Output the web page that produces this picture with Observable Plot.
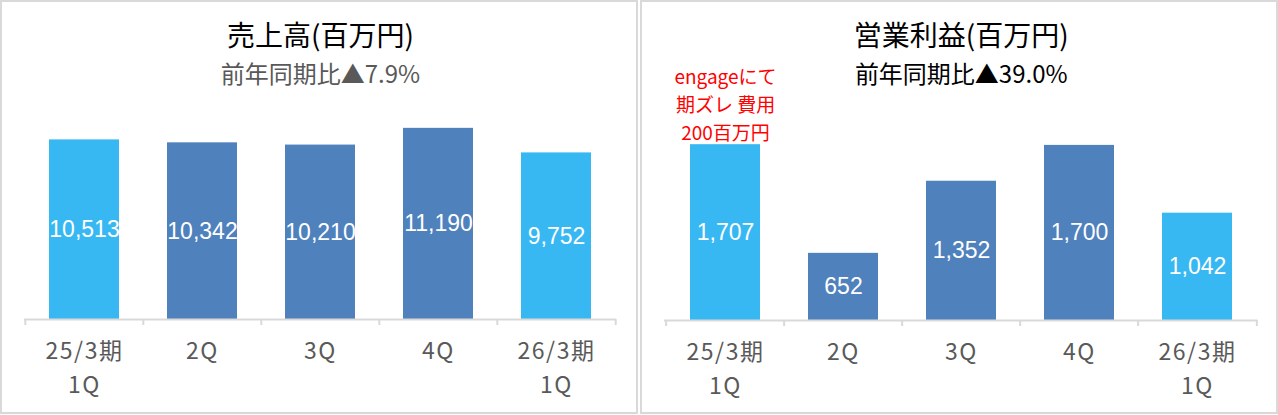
<!DOCTYPE html>
<html><head><meta charset="utf-8">
<script src="https://cdn.jsdelivr.net/npm/d3@7"></script>
<script src="https://cdn.jsdelivr.net/npm/@observablehq/plot@0.6"></script>
<style>
body{margin:0;background:#fff;}
.panel{position:absolute;top:0;width:638px;height:414px;box-sizing:border-box;border:2px solid #d9d9d9;background:#fff;}
.panel svg{position:absolute;left:0;top:0;}
.panel g[aria-label="x-axis tick label"] text{letter-spacing:1.5px;}
</style></head><body>
<div id="left" class="panel" style="left:0"></div>
<div id="right" class="panel" style="left:640px"></div>
<script>
const categories = ["25/3期\n1Q", "2Q", "3Q", "4Q", "26/3期\n1Q"];
const kinds = ["1Q", "other", "other", "other", "1Q"];
const salesValues = [10513, 10342, 10210, 11190, 9752];
const profitValues = [1707, 652, 1352, 1700, 1042];
const salesTitle = "売上高(百万円)";
const salesSubtitle = "前年同期比▲7.9%";
const profitTitle = "営業利益(百万円)";
const profitSubtitle = "前年同期比▲39.0%";
const profitNote = "engageにて\n期ズレ 費用\n200百万円";
const salesAxisMax = 12000;
const profitAxisMax = 2000;

const CJK = "'Noto Sans CJK JP', 'Noto Sans', sans-serif";
const NUM = "'Liberation Sans', Arial, sans-serif";

function chart({values, max, title, subtitle, subColor, note, marginRight, marginBottom}) {
  const W = 634, H = 410, ml = 22;
  const data = categories.map((c, i) => ({cat: c, kind: kinds[i], v: values[i]}));
  const step = (W - ml - marginRight) / categories.length;
  const tickStyle = {stroke: "#d9d9d9", strokeWidth: 2, y1: 0, y2: 0, insetBottom: -6};
  const marks = [
    Plot.barY(data, {x: "cat", y: "v", fill: "kind"}),
    Plot.ruleY([0], {stroke: "#d9d9d9", strokeWidth: 2}),
    Plot.ruleX(categories, {x: d => d, dx: -step / 2, ...tickStyle}),
    Plot.ruleX(categories.slice(-1), {x: d => d, dx: step / 2, ...tickStyle}),
    Plot.text(data, {x: "cat", y: d => d.v / 2, text: d => d3.format(",")(d.v), fill: "white", fontSize: 23, fontFamily: NUM}),
    Plot.axisX({tickSize: 0, tickPadding: 16, fontSize: 23, lineHeight: 1.45, color: "#595959"}),
    Plot.text([title], {frameAnchor: "top", lineAnchor: "middle", dy: -77, fontSize: 28, fill: "black", text: d => d}),
    Plot.text([subtitle], {frameAnchor: "top", lineAnchor: "middle", dy: -39, fontSize: 24, fill: subColor, text: d => d})
  ];
  if (note) {
    marks.push(Plot.text([note], {x: [categories[0]], y: [values[0]], text: d => d, lineAnchor: "bottom", dy: -5, fontSize: 19, lineHeight: 1.47, fill: "#ff0000"}));
  }
  return Plot.plot({
    width: W, height: H,
    marginLeft: ml, marginRight, marginTop: 112, marginBottom,
    style: {fontFamily: CJK, background: "transparent", overflow: "visible"},
    x: {domain: categories, paddingInner: 0.41, paddingOuter: 0.205, label: null},
    y: {domain: [0, max], axis: null},
    color: {domain: ["1Q", "other"], range: ["#38b8f2", "#4f81bd"]},
    marks
  });
}

document.getElementById("left").append(chart({
  values: salesValues, max: salesAxisMax, title: salesTitle, subtitle: salesSubtitle,
  subColor: "#595959", note: null, marginRight: 20, marginBottom: 93
}));
document.getElementById("right").append(chart({
  values: profitValues, max: profitAxisMax, title: profitTitle, subtitle: profitSubtitle,
  subColor: "#000000", note: profitNote, marginRight: 18.5, marginBottom: 92
}));
</script>
</body></html>
